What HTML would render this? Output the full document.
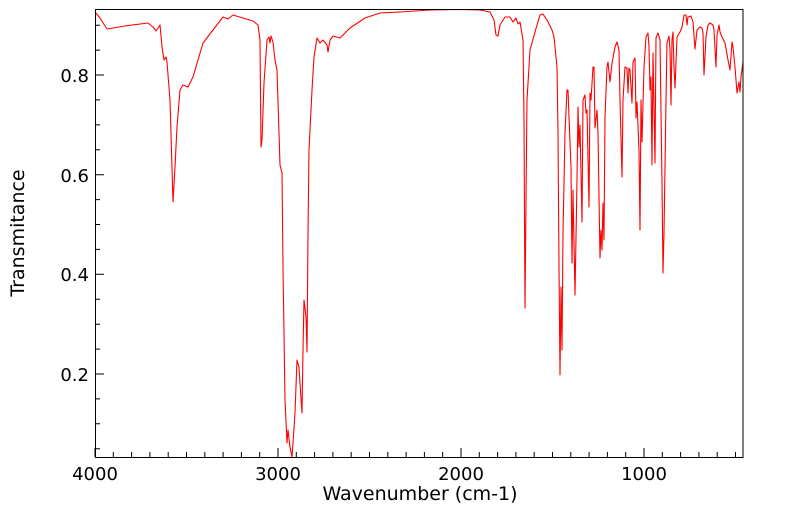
<!DOCTYPE html>
<html><head><style>body{margin:0;background:#fff}svg{display:block}text{font-family:"DejaVu Sans","Liberation Sans",sans-serif;fill:#000}</style></head>
<body>
<svg width="799" height="516" xmlns="http://www.w3.org/2000/svg">
<rect x="0" y="0" width="799" height="516" fill="#fff"/>
<polyline fill="none" stroke="#ff0000" stroke-width="1.1" stroke-linejoin="round" points="95,12 100,18 107,29 125,26 148,23 153,27 156,31 158,28 160,25 162,47 164,60 166,57 167,62 170,100 173,202 175,167 177,127 180,90 183,85 188,87 193,77 203,43 213,30 223,17 228,19 233,15 243,18 253,21 258,25 260,40 261,147 262,140 264,83 267,40 269,37 270,43 271,36 273,42 275,60 277,70 279,133 280,165 282,173 283,267 285,400 287,443 288,430 290,447 292,457 293,443 295,413 297,360 299,367 300,383 302,413 303,350 304,300 306,317 307,352 308,233 309,150 312,90 314,57 317,38 320,43 323,40 327,45 328,52 330,40 333,36 340,38 350,28 365,18 380,13 400,12 430,10 460,9.5 480,10 490,12 494,20 496,35 498,36 500,25 505,17 510,17 513,22 516,18 518,24 520,22 523,40 524,120 525,308 526,200 527,100 530,50 535,32 540,15 543,14 547,20 552,30 554,37 557,67 558,133 559,267 560,375 561,287 562,350 563,233 565,133 567,90 568,90 569,117 571,167 572,263 573,190 575,295 577,180 578,107 579,147 580,125 582,222 583,100 585,95 586,113 587,110 589,207 590,93 591,100 593,67 594,67 595,128 597,110 598,133 600,258 601,230 602,250 603,203 604,240 605,117 607,67 608,62 610,82 612,63 615,47 617,42 619,50 620,100 622,177 623,100 625,67 627,68 628,93 629,68 630,70 632,103 633,62 635,58 636,118 637,102 639,150 640,230 641,100 642,142 644,67 646,37 648,33 649,47 650,90 651,77 652,165 653,53 655,163 656,38 658,33 660,40 662,183 663,273 664,233 666,100 667,43 669,36 670,50 671,105 672,40 673,32 674,67 675,88 677,37 680,32 682,27 684,15 686,15 687,25 688,17 691,16 693,22 695,49 697,30 700,27 702,28 703,33 704,75 706,37 708,25 710,23 713,25 714,30 716,67 717,35 719,25 720,32 722,37 725,43 728,60 730,70 732,42 733,47 735,67 737,93 739,82 740,92 741,77 743,62"/>
<g stroke="#000" stroke-width="1">
<path d="M95,457v-9M113.3,457v-5M131.6,457v-5M149.9,457v-5M168.2,457v-5M186.5,457v-5M204.8,457v-5M223.1,457v-5M241.4,457v-5M259.7,457v-5M278,457v-9M296.3,457v-5M314.6,457v-5M332.9,457v-5M351.2,457v-5M369.5,457v-5M387.8,457v-5M406.1,457v-5M424.4,457v-5M442.7,457v-5M461,457v-9M479.3,457v-5M497.6,457v-5M515.9,457v-5M534.2,457v-5M552.5,457v-5M570.8,457v-5M589.1,457v-5M607.4,457v-5M625.7,457v-5M644,457v-9M662.3,457v-5M680.6,457v-5M698.9,457v-5M717.2,457v-5M735.5,457v-5"/>
<path d="M95,448.7h5M95,423.8h5M95,398.9h5M95,374h9M95,349.1h5M95,324.2h5M95,299.2h5M95,274.3h9M95,249.4h5M95,224.5h5M95,199.6h5M95,174.7h9M95,149.8h5M95,124.9h5M95,99.9h5M95,75h9M95,50.1h5M95,25.2h5"/>
</g>
<rect x="95.5" y="9.5" width="647.5" height="448" fill="none" stroke="#000" stroke-width="1"/>
<g font-size="18">
<text x="95" y="480" text-anchor="middle">4000</text>
<text x="278" y="480" text-anchor="middle">3000</text>
<text x="461" y="480" text-anchor="middle">2000</text>
<text x="644" y="480" text-anchor="middle">1000</text>
<text x="89" y="381" text-anchor="end">0.2</text>
<text x="89" y="281" text-anchor="end">0.4</text>
<text x="89" y="182" text-anchor="end">0.6</text>
<text x="89" y="82" text-anchor="end">0.8</text>
<text x="420" y="500" text-anchor="middle" font-size="19">Wavenumber (cm-1)</text>
<text transform="translate(24,233) rotate(-90)" text-anchor="middle" font-size="19">Transmitance</text>
</g>
</svg>
</body></html>
